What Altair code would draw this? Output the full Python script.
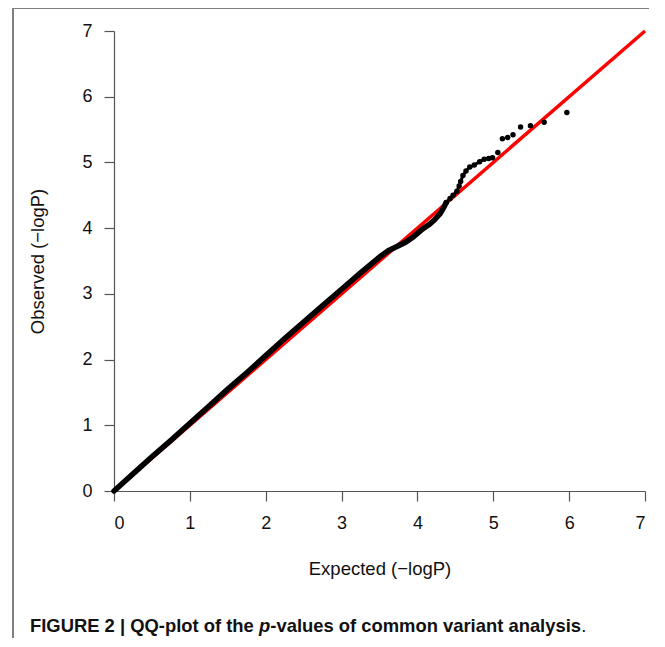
import altair as alt
import pandas as pd

# Dense band of the QQ-plot (expected vs observed -log10 P)
band_expected = [0.00, 0.25, 0.50, 0.75, 1.00, 1.25, 1.50, 1.75, 2.00, 2.25, 2.50, 2.75,
                 3.00, 3.25, 3.50, 3.62, 3.73, 3.85, 3.95, 4.05, 4.15, 4.22, 4.30, 4.34,
                 4.38]
band_observed = [0.00, 0.26, 0.52, 0.77, 1.03, 1.29, 1.55, 1.80, 2.06, 2.32, 2.57, 2.82,
                 3.07, 3.32, 3.56, 3.66, 3.72, 3.79, 3.87, 3.97, 4.05, 4.12, 4.22, 4.30,
                 4.39]

# Upper curved run of points
curve_expected = [4.38, 4.43, 4.47, 4.52, 4.55, 4.57, 4.60, 4.64, 4.69, 4.75, 4.82, 4.88,
                  4.94, 4.99]
curve_observed = [4.39, 4.45, 4.50, 4.56, 4.64, 4.71, 4.80, 4.87, 4.93, 4.96, 5.01, 5.05,
                  5.06, 5.07]

# Isolated top points
tail_expected = [5.06, 5.12, 5.19, 5.26, 5.36, 5.49, 5.67, 5.97]
tail_observed = [5.15, 5.36, 5.38, 5.42, 5.54, 5.56, 5.61, 5.76]

# y = x reference line
ref_x = [0, 7]
ref_y = [0, 7]

ticks = [0, 1, 2, 3, 4, 5, 6, 7]

FONT = "Liberation Sans, Arial, Helvetica, sans-serif"
AXIS_GRAY = "#555555"

band_df = pd.DataFrame({"expected": band_expected, "observed": band_observed})
curve_df = pd.DataFrame({"expected": curve_expected, "observed": curve_observed})
tail_df = pd.DataFrame({"expected": tail_expected, "observed": tail_observed})
pts_df = pd.concat([curve_df, tail_df], ignore_index=True)
ref_df = pd.DataFrame({"expected": ref_x, "observed": ref_y})
one = pd.DataFrame({"k": [0]})

xscale = alt.Scale(domain=[0, 7], nice=False, zero=False)
yscale = alt.Scale(domain=[0, 7], nice=False, zero=False)

xaxis = alt.Axis(values=ticks, format="d", tickSize=10, grid=False,
                 labelFontSize=18, labelFont=FONT, labelColor="#111111", labelPadding=13,
                 title="Expected (\u2212logP)", titleFont=FONT, titleFontSize=18.5,
                 titleFontWeight="normal", titleColor="#111111", titlePadding=27,
                 domainColor=AXIS_GRAY, tickColor=AXIS_GRAY, domainWidth=1.2, tickWidth=1.2)
yaxis = alt.Axis(values=ticks, format="d", tickSize=10, grid=False, labelAngle=0,
                 labelFontSize=18, labelFont=FONT, labelColor="#111111", labelPadding=12,
                 title="Observed (\u2212logP)", titleFont=FONT, titleFontSize=18.5,
                 titleFontWeight="normal", titleColor="#111111", titlePadding=34,
                 domainColor=AXIS_GRAY, tickColor=AXIS_GRAY, domainWidth=1.2, tickWidth=1.2)

ref_line = alt.Chart(ref_df).mark_line(color="#FF0000", strokeWidth=3.5).encode(
    x=alt.X("expected:Q", scale=xscale, axis=xaxis),
    y=alt.Y("observed:Q", scale=yscale, axis=yaxis),
)

band_line = alt.Chart(band_df).mark_line(color="black", strokeWidth=5.5,
                                         strokeCap="round", strokeJoin="round").encode(
    x=alt.X("expected:Q", scale=xscale),
    y=alt.Y("observed:Q", scale=yscale),
)

curve_line = alt.Chart(curve_df).mark_line(color="black", strokeWidth=3,
                                           strokeCap="round", strokeJoin="round").encode(
    x=alt.X("expected:Q", scale=xscale),
    y=alt.Y("observed:Q", scale=yscale),
)

points = alt.Chart(pts_df).mark_circle(color="black", opacity=1, size=30).encode(
    x=alt.X("expected:Q", scale=xscale),
    y=alt.Y("observed:Q", scale=yscale),
)

# Figure frame (gray lines at top and left)
frame_top = alt.Chart(one).mark_rule(color="#808080", strokeWidth=2).encode(
    x=alt.value(-101), x2=alt.value(560), y=alt.value(-23))
frame_left = alt.Chart(one).mark_rule(color="#808080", strokeWidth=2).encode(
    x=alt.value(-101), y=alt.value(-23), y2=alt.value(620))

cap_style = dict(align="left", baseline="alphabetic", font=FONT, fontSize=18.4,
                 color="#111111")
cap1 = alt.Chart(one).mark_text(fontWeight="bold", **cap_style).encode(
    x=alt.value(-84), y=alt.value(601), text=alt.value("FIGURE 2 | QQ-plot of the "))
cap2 = alt.Chart(one).mark_text(fontWeight="bold", fontStyle="italic", **cap_style).encode(
    x=alt.value(145), y=alt.value(601), text=alt.value("p"))
cap3 = alt.Chart(one).mark_text(fontWeight="bold", **cap_style).encode(
    x=alt.value(156.3), y=alt.value(601),
    text=alt.value("-values of common variant analysis"))
cap4 = alt.Chart(one).mark_text(fontWeight="normal", **cap_style).encode(
    x=alt.value(467.2), y=alt.value(601), text=alt.value("."))

chart = alt.layer(
    ref_line, band_line, curve_line, points, frame_top, frame_left, cap1, cap2, cap3, cap4
).properties(
    width=531, height=460,
    padding={"left": 106, "top": 23, "right": 4, "bottom": 147},
    autosize=alt.AutoSizeParams(type="none"),
).configure_view(stroke=None)

chart.save("out.html", embed_options={"renderer": "svg", "actions": False})
